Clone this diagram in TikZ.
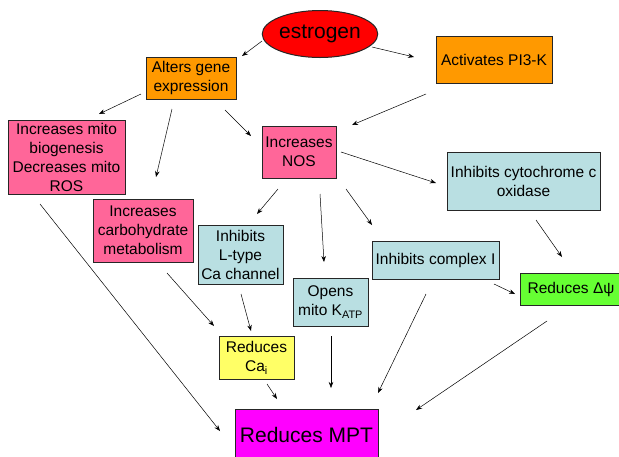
\documentclass[tikz,border=0pt]{standalone}
\usepackage{fontspec}
\setmainfont{Liberation Sans}
\usetikzlibrary{arrows.meta,shapes.geometric}
\definecolor{cred}{HTML}{FF0000}
\definecolor{corange}{HTML}{FF9900}
\definecolor{cpink}{HTML}{FF6699}
\definecolor{cblue}{HTML}{B9DFE2}
\definecolor{cyellow}{HTML}{FFFF66}
\definecolor{cgreen}{HTML}{66FF33}
\definecolor{cmagenta}{HTML}{FF00FF}
\definecolor{cborder}{HTML}{262626}
\tikzset{
  box/.style={draw=cborder, line width=1pt, rectangle, align=center, inner sep=0pt,
    font=\fontsize{15.5}{19}\selectfont},
  bigfont/.style={font=\fontsize{21}{25}\selectfont},
  arr/.style={draw=black, line width=0.5pt, -{Stealth[length=6pt,width=4.5pt]}}
}
\begin{document}
\begin{tikzpicture}[x=1pt,y=-1pt]
\useasboundingbox (0,0) rectangle (619,456);
\clip (0,0) rectangle (619,456);
% nodes
\node[ellipse, draw=cborder, line width=1pt, fill=cred, minimum width=106pt, minimum height=47pt, inner sep=0pt, bigfont] (estrogen) at (320,34) {estrogen};
\node[box, fill=corange, minimum width=90pt, minimum height=42pt] (alters) at (191,78) {Alters gene\\expression};
\node[box, fill=corange, minimum width=116pt, minimum height=47pt] (pi3k) at (494,59.5) {Activates PI3-K};
\node[box, fill=cpink, minimum width=117pt, minimum height=74pt] (mito) at (66.5,157) {Increases mito\\biogenesis\\Decreases mito\\ROS};
\node[box, fill=cpink, minimum width=74pt, minimum height=52pt] (nos) at (299,152) {Increases\\NOS};
\node[box, fill=cpink, minimum width=100pt, minimum height=63pt] (carb) at (143,230.5) {Increases\\carbohydrate\\metabolism};
\node[box, fill=cblue, minimum width=85pt, minimum height=59pt] (ltype) at (240.5,254.5) {Inhibits\\L-type\\Ca channel};
\node[box, fill=cblue, minimum width=75pt, minimum height=48pt] (katp) at (330.5,302) {Opens\\mito K\textsubscript{ATP}};
\node[box, fill=cblue, minimum width=127pt, minimum height=38pt] (cplx) at (435.5,260) {Inhibits complex I};
\node[box, fill=cblue, minimum width=153pt, minimum height=58pt] (cyto) at (523.5,181) {Inhibits cytochrome c\\oxidase};
\node[box, fill=cgreen, minimum width=102pt, minimum height=32pt] (dpsi) at (571,289) {Reduces Δψ};
\node[box, fill=cyellow, minimum width=75pt, minimum height=43pt] (cai) at (256.5,357.5) {Reduces\\Ca\textsubscript{i}};
\node[box, fill=cmagenta, minimum width=143pt, minimum height=52pt, bigfont] (mpt) at (306.5,435) {Reduces MPT};
% connector end points
\coordinate (estrogen-o1) at (262,41);   \coordinate (alters-i1) at (242,56);
\coordinate (estrogen-o2) at (372,47);   \coordinate (pi3k-i1) at (414,57);
\coordinate (alters-o1) at (141,94);     \coordinate (mito-i1) at (99,114);
\coordinate (alters-o2) at (172,109);    \coordinate (carb-i1) at (156,177);
\coordinate (alters-o3) at (225,110);    \coordinate (nos-i1) at (251,136);
\coordinate (pi3k-o1) at (426,94);       \coordinate (nos-i2) at (352,125);
\coordinate (nos-o1) at (341,152);       \coordinate (cyto-i1) at (436,183);
\coordinate (nos-o2) at (278,189);       \coordinate (ltype-i1) at (257,214);
\coordinate (nos-o3) at (320,194);       \coordinate (katp-i1) at (324,262);
\coordinate (nos-o4) at (346,189);       \coordinate (cplx-i1) at (372,225);
\coordinate (cyto-o1) at (536,220);      \coordinate (dpsi-i1) at (562,257);
\coordinate (cplx-o1) at (494,284);      \coordinate (dpsi-i2) at (515,294);
\coordinate (mito-o1) at (40,204);       \coordinate (mpt-i1) at (220,431);
\coordinate (carb-o1) at (167,273);      \coordinate (cai-i1) at (214,326);
\coordinate (ltype-o1) at (241,294);     \coordinate (cai-i2) at (251,331);
\coordinate (cai-o1) at (267,384);       \coordinate (mpt-i2) at (277,399);
\coordinate (katp-o1) at (331,336);      \coordinate (mpt-i3) at (331,388);
\coordinate (cplx-o2) at (426,294);      \coordinate (mpt-i4) at (378,393);
\coordinate (dpsi-o1) at (547,321);      \coordinate (mpt-i5) at (416,410);
% connectors
\draw[arr] (estrogen-o1) -- (alters-i1);
\draw[arr] (estrogen-o2) -- (pi3k-i1);
\draw[arr] (alters-o1) -- (mito-i1);
\draw[arr] (alters-o2) -- (carb-i1);
\draw[arr] (alters-o3) -- (nos-i1);
\draw[arr] (pi3k-o1) -- (nos-i2);
\draw[arr] (nos-o1) -- (cyto-i1);
\draw[arr] (nos-o2) -- (ltype-i1);
\draw[arr] (nos-o3) -- (katp-i1);
\draw[arr] (nos-o4) -- (cplx-i1);
\draw[arr] (cyto-o1) -- (dpsi-i1);
\draw[arr] (cplx-o1) -- (dpsi-i2);
\draw[arr] (mito-o1) -- (mpt-i1);
\draw[arr] (carb-o1) -- (cai-i1);
\draw[arr] (ltype-o1) -- (cai-i2);
\draw[arr] (cai-o1) -- (mpt-i2);
\draw[arr] (katp-o1) -- (mpt-i3);
\draw[arr] (cplx-o2) -- (mpt-i4);
\draw[arr] (dpsi-o1) -- (mpt-i5);
\end{tikzpicture}
\end{document}
